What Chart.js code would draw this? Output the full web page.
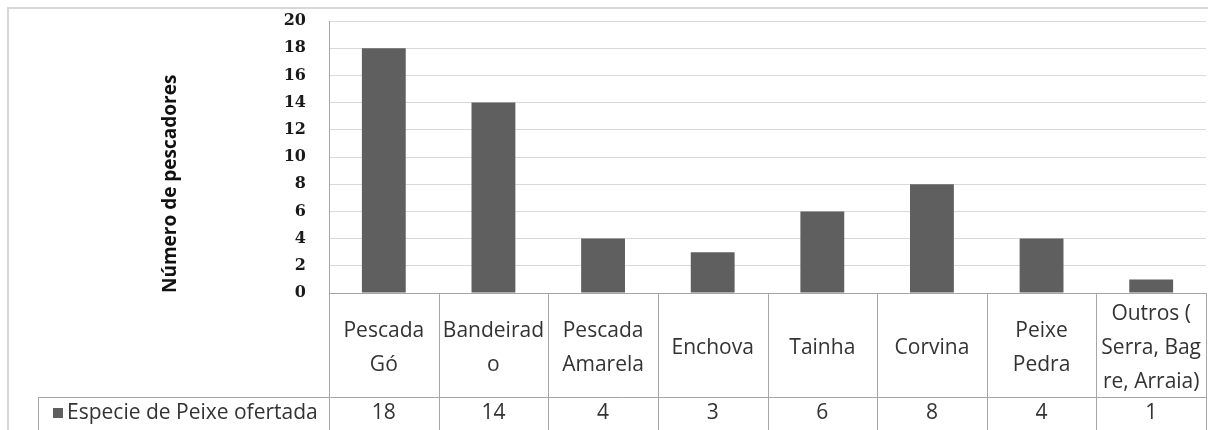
<!DOCTYPE html>
<html lang="pt">
<head>
<meta charset="utf-8">
<title>Espécies de peixe ofertadas</title>
<script src="https://cdn.jsdelivr.net/npm/chart.js@4/dist/chart.umd.min.js"></script>
<style>
  html, body { margin: 0; padding: 0; background: #ffffff; }
  canvas { display: block; }
</style>
</head>
<body>
<canvas id="chart" width="1208" height="430"></canvas>
<script>
// Species offered (category labels, split where the cells wrap)
const species = [
  ["Pescada", "Gó"],
  ["Bandeirad", "o"],
  ["Pescada", "Amarela"],
  "Enchova",
  "Tainha",
  "Corvina",
  ["Peixe", "Pedra"],
  ["Outros (", "Serra, Bag", "re, Arraia)"]
];
// Number of fishers per species
const fishers = [18, 14, 4, 3, 6, 8, 4, 1];
const seriesName = "Especie de Peixe ofertada";
const axisTitle = "Número de pescadores";
const yMin = 0;
const yMax = 20;
const yStep = 2;

const barColor = "#5f5f5f";
const tableLine = "#a6a6a6";
const textColor = "#333333";
const labelFont = "'Open Sans', 'Noto Sans', sans-serif";
const labelSize = 21;

// Frame around the chart and the data table under the plot
const tablePlugin = {
  id: "dataTable",
  beforeDraw(chart) {
    const ctx = chart.ctx;
    ctx.save();
    ctx.strokeStyle = "#d6d6d6";
    ctx.lineWidth = 2;
    ctx.beginPath();
    ctx.moveTo(8, chart.height + 2);
    ctx.lineTo(8, 8);
    ctx.lineTo(chart.width + 2, 8);
    ctx.stroke();
    ctx.restore();
  },
  afterDraw(chart) {
    const ctx = chart.ctx;
    const x = chart.scales.x;
    const area = chart.chartArea;
    const n = species.length;
    const colW = (area.right - area.left) / n;
    const headerBottom = 397;
    const bottom = chart.height;
    const legendLeft = 38;

    ctx.save();
    ctx.strokeStyle = tableLine;
    ctx.lineWidth = 1;
    ctx.beginPath();
    // column separators
    for (let i = 0; i <= n; i++) {
      const px = Math.round(area.left + i * colW) + 0.5;
      ctx.moveTo(px, area.bottom);
      ctx.lineTo(px, bottom);
    }
    // row separator and legend cell
    ctx.moveTo(legendLeft + 0.5, headerBottom + 0.5);
    ctx.lineTo(area.right, headerBottom + 0.5);
    ctx.moveTo(legendLeft + 0.5, headerBottom);
    ctx.lineTo(legendLeft + 0.5, bottom);
    ctx.stroke();

    // legend key and series name
    const rowMid = 413;
    ctx.fillStyle = barColor;
    ctx.fillRect(53, rowMid - 5, 10, 10);
    ctx.fillStyle = textColor;
    ctx.font = labelSize + "px " + labelFont;
    ctx.textBaseline = "middle";
    ctx.textAlign = "left";
    ctx.fillText(seriesName, 67, rowMid);

    // values
    ctx.textAlign = "center";
    fishers.forEach((v, i) => {
      ctx.fillText(String(v), x.getPixelForValue(i), rowMid);
    });
    ctx.restore();
  }
};

new Chart(document.getElementById("chart"), {
  type: "bar",
  data: {
    labels: species,
    datasets: [{
      label: seriesName,
      data: fishers,
      backgroundColor: barColor,
      borderWidth: 0,
      categoryPercentage: 1,
      barPercentage: 0.4
    }]
  },
  options: {
    responsive: false,
    animation: false,
    devicePixelRatio: 1,
    layout: { padding: { left: 8, top: 21, right: 2, bottom: 0 } },
    plugins: {
      legend: { display: false },
      tooltip: { enabled: false }
    },
    scales: {
      x: {
        offset: true,
        grid: { display: false, drawTicks: false },
        border: { display: true, color: tableLine, width: 1 },
        ticks: {
          autoSkip: false,
          maxRotation: 0,
          minRotation: 0,
          crossAlign: "center",
          padding: 21,
          color: textColor,
          font: { family: labelFont, size: labelSize, lineHeight: "34px" }
        },
        afterFit(scale) {
          scale.height = 137;
          scale.paddingLeft = 0;
          scale.paddingRight = 0;
        }
      },
      y: {
        min: yMin,
        max: yMax,
        ticks: {
          stepSize: yStep,
          padding: 23,
          color: "#1a1a1a",
          font: { family: "'DejaVu Serif', serif", size: 16, weight: "bold" }
        },
        grid: { color: "#d9d9d9", lineWidth: 1, drawTicks: false },
        border: { display: true, color: tableLine, width: 1 },
        title: {
          display: true,
          text: axisTitle,
          align: "start",
          color: "#111111",
          padding: { top: 151, bottom: 0 },
          font: { family: labelFont, size: 19, weight: "bold", lineHeight: 1.2 }
        },
        afterFit(scale) {
          scale.width = 321;
          scale.paddingTop = 0;
          scale.paddingBottom = 0;
        }
      }
    }
  },
  plugins: [tablePlugin]
});
</script>
</body>
</html>
